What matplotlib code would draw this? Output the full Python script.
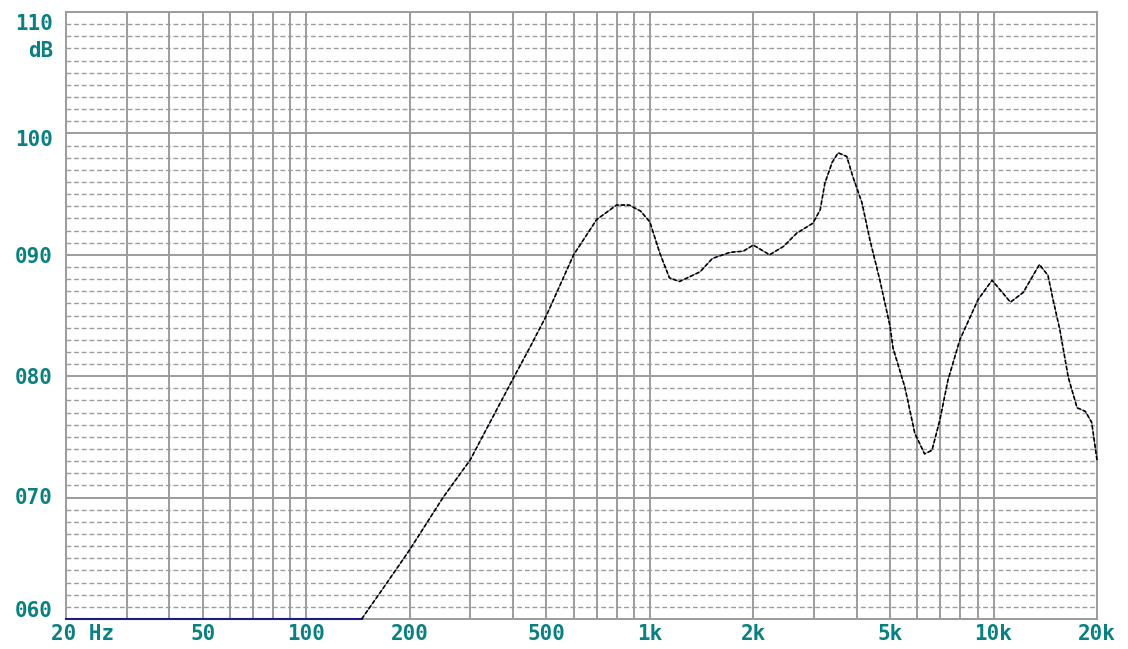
import numpy as np
import matplotlib
matplotlib.use("Agg")
import matplotlib.pyplot as plt
from matplotlib import transforms

# frequency response (Hz, dB)
freq = [20, 145, 170, 200, 250, 300, 350, 400, 450, 500, 600, 700, 800, 870,
        940, 1000, 1070, 1140, 1220, 1400, 1520, 1710, 1870, 2000, 2230, 2450,
        2680, 2980, 3130, 3230, 3390, 3530, 3740, 3900, 4140, 4370, 4670, 5000,
        5100, 5520, 5900, 6300, 6620, 6980, 7370, 7980, 9010, 9900, 11200,
        12200, 13600, 14400, 14900, 15600, 16500, 17500, 18500, 19300, 20000]
spl = [60, 60, 62.8, 65.7, 70.0, 73.1, 76.7, 79.8, 82.5, 85.0, 90.0, 92.9, 94.1, 94.1,
       93.6, 92.7, 90.1, 88.1, 87.8, 88.6, 89.7, 90.2, 90.3, 90.8, 90.0, 90.7,
       91.8, 92.6, 93.7, 95.9, 97.6, 98.4, 98.1, 96.4, 94.3, 91.2, 87.9, 84.1,
       82.3, 79.1, 75.3, 73.6, 73.9, 76.4, 79.7, 83.0, 86.3, 87.9, 86.1,
       86.9, 89.2, 88.3, 86.3, 83.8, 79.9, 77.4, 77.1, 76.2, 73.1]

x_ticks = [20, 50, 100, 200, 500, 1000, 2000, 5000, 10000, 20000]
x_labels = ["20 Hz", "50", "100", "200", "500", "1k", "2k", "5k", "10k", "20k"]
y_ticks = [60, 70, 80, 90, 100, 110]
y_labels = ["060", "070", "080", "090", "100", "110"]
# y label shifts in pixels (labels sit a bit off the grid lines)
y_shift = [8, 0, -2, -2, -7, -12]

teal = "#0a8080"
grid_c = "#9c9c9c"

fig = plt.figure(figsize=(11.28, 6.49), dpi=100)
ax = fig.add_axes([66 / 1128, 1 - 619 / 649, 1031 / 1128, 607 / 649])
ax.set_xscale("log")
ax.set_xlim(20, 20000)
ax.set_ylim(60, 110)

# grid
vlines = [m * 10 ** e for e in range(1, 5) for m in range(1, 10)]
vlines = [v for v in vlines if 20 <= v <= 20000]
for v in vlines:
    ax.axvline(v, color=grid_c, lw=1.4, zorder=1)
for d in range(61, 110):
    if d % 10:
        ax.axhline(d, color=grid_c, lw=1.0, ls=(0, (3.5, 2)), zorder=1)
for d in y_ticks:
    ax.axhline(d, color=grid_c, lw=1.4, zorder=1)

for s in ax.spines.values():
    s.set_color(grid_c)
    s.set_linewidth(1.4)

# flat part navy, rest black dotted
ax.plot(freq[:2], spl[:2], color="#1c1c8a", lw=1.5, zorder=3, clip_on=False)
ax.plot(freq[1:], spl[1:], color="#2a2a5a", lw=0.5, zorder=3, clip_on=False)
ax.plot(freq[1:], spl[1:], color="black", lw=1.2, ls=(0, (2.5, 1.2)), zorder=4, clip_on=False)

ax.set_xticks([])
ax.set_yticks([])
ax.minorticks_off()

fkw = dict(color=teal, fontsize=15, fontweight="bold", family="DejaVu Sans Mono")

for xv, lab in zip(x_ticks, x_labels):
    if lab == "20 Hz":
        tr = transforms.offset_copy(ax.get_xaxis_transform(), fig=fig, x=-15, y=-5, units="dots")
        ax.text(xv, 0, lab, transform=tr, ha="left", va="top", **fkw)
    else:
        tr = transforms.offset_copy(ax.get_xaxis_transform(), fig=fig, x=0, y=-5, units="dots")
        ax.text(xv, 0, lab, transform=tr, ha="center", va="top", **fkw)

for yv, lab, sh in zip(y_ticks, y_labels, y_shift):
    tr = transforms.offset_copy(ax.transData, fig=fig, x=-13, y=sh, units="dots")
    ax.text(20, yv, lab, transform=tr, ha="right", va="center", clip_on=False, **fkw)
tr = transforms.offset_copy(ax.transData, fig=fig, x=-13, y=-39, units="dots")
ax.text(20, 110, "dB", transform=tr, ha="right", va="center", clip_on=False, **fkw)

fig.savefig("out.png", dpi=100, facecolor="white")
